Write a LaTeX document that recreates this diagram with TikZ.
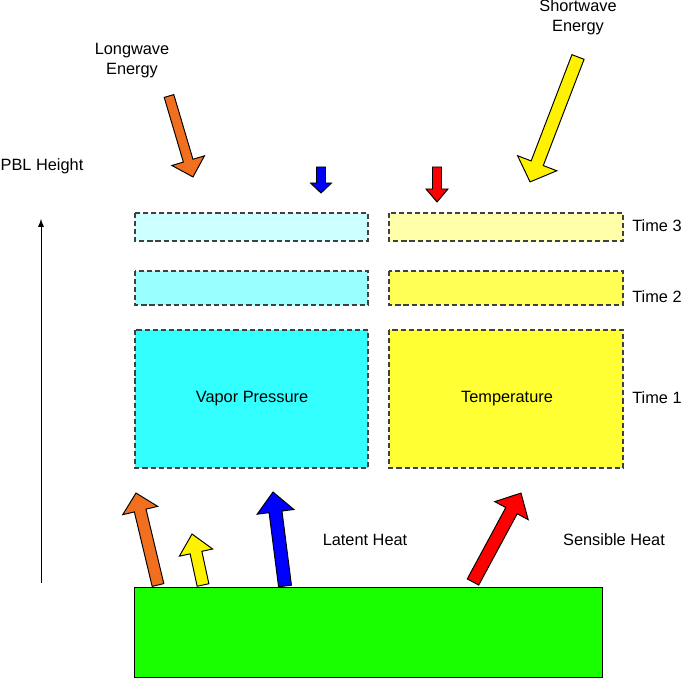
\documentclass[tikz,border=0pt]{standalone}
\usepackage{fontspec}
\setmainfont{Liberation Sans}
\usepackage{tikz}
\usetikzlibrary{calc}
\usetikzlibrary{arrows}
\definecolor{vapone}{RGB}{51,255,255}
\definecolor{vaptwo}{RGB}{153,255,255}
\definecolor{vapthree}{RGB}{204,255,255}
\definecolor{tmpone}{RGB}{255,255,51}
\definecolor{tmptwo}{RGB}{255,255,85}
\definecolor{tmpthree}{RGB}{255,255,170}
\definecolor{ground}{RGB}{26,255,0}
\definecolor{longwave}{RGB}{240,112,32}
% tail, tip, shaft width, head width, head length (px), colour
\newcommand{\blockarrow}[6]{
    \draw[blockarr, fill=#6] let \p1=($(#2)-(#1)$), \n1={veclen(\x1,\y1)}, \n2={atan2(\y1,\x1)} in
        [shift={(#1)}, rotate=\n2]
        (0pt,{#3*0.01cm}) -- ({\n1*1pt-#5*0.02cm},{#3*0.01cm}) -- ({\n1*1pt-#5*0.02cm},{#4*0.01cm})
        -- ({\n1*1pt},0pt) -- ({\n1*1pt-#5*0.02cm},{-#4*0.01cm}) -- ({\n1*1pt-#5*0.02cm},{-#3*0.01cm})
        -- (0pt,{-#3*0.01cm}) -- cycle;
}
\tikzstyle{every node}=[font=\fontsize{9.3}{11.3}\selectfont]
\tikzstyle{layer}=[draw={rgb,255:red,64;green,64;blue,64}, line width=0.7pt, dash pattern=on 2.9pt off 1.7pt]
\tikzstyle{blockarr}=[draw=black, line width=0.55pt, line join=miter]

\begin{document}
\begin{tikzpicture}[x=0.02cm, y=-0.02cm, >=latex]
        \useasboundingbox (0,0) rectangle (683,678);
        % layers
        \draw[layer, fill=vapthree] (135,213) rectangle (368,241);
        \draw[layer, fill=vaptwo] (135,271) rectangle (368,305);
        \draw[layer, fill=vapone] (135,330) rectangle (368,468);
        \draw[layer, fill=tmpthree] (389,213) rectangle (623,241);
        \draw[layer, fill=tmptwo] (389,271) rectangle (623,305);
        \draw[layer, fill=tmpone] (389,330) rectangle (623,468);
        \node (vap) at (252,399) {Vapor Pressure};
        \node (tmp) at (507,399) {Temperature};
        \node (time3) at (657,226) {Time 3};
        \node (time2) at (657,297) {Time 2};
        \node (time1) at (657,398) {Time 1};
        % ground
        \draw[line width=0.55pt, fill=ground] (134,587) rectangle (602,677);
        % height axis
        \node (pbl) at (42,166) {PBL Height};
        \coordinate (pblbot) at (41,583);
        \coordinate (pbltop) at (41,219);
        \draw[->, line width=0.55pt] (pblbot) -- (pbltop);
        % incoming
        \node[align=center] (lwlabel) at (132,61) {Longwave\\Energy};
        \node[align=center] (swlabel) at (578,17) {Shortwave\\Energy};
        \coordinate (lwtail) at (169,96);
        \coordinate (lwtip) at (193,177);
        \coordinate (swtail) at (578,57);
        \coordinate (swtip) at (530,182);
        \coordinate (vaptail) at (321,167);
        \coordinate (vaptip) at (321,193);
        \coordinate (tmptail) at (437,167);
        \coordinate (tmptip) at (437,202);
        \blockarrow{lwtail}{lwtip}{10}{34}{17}{longwave}
        \blockarrow{swtail}{swtip}{13}{42}{20}{yellow}
        \blockarrow{vaptail}{vaptip}{9}{21}{10}{blue}
        \blockarrow{tmptail}{tmptip}{9}{22}{13}{red}
        % outgoing
        \node (latent) at (365,540) {Latent Heat};
        \node (sensible) at (614,540) {Sensible Heat};
        \coordinate (uplwtail) at (158,585);
        \coordinate (uplwtip) at (136,493);
        \coordinate (upswtail) at (203,585);
        \coordinate (upswtip) at (192,534);
        \coordinate (latenttail) at (285,586);
        \coordinate (latenttip) at (273,492);
        \coordinate (sensibletail) at (473,582);
        \coordinate (sensibletip) at (521,493);
        \blockarrow{uplwtail}{uplwtip}{12}{36}{18}{longwave}
        \blockarrow{upswtail}{upswtip}{12}{34}{19}{yellow}
        \blockarrow{latenttail}{latenttip}{13}{37}{20}{blue}
        \blockarrow{sensibletail}{sensibletip}{13}{38}{20}{red}
\end{tikzpicture}
\end{document}
